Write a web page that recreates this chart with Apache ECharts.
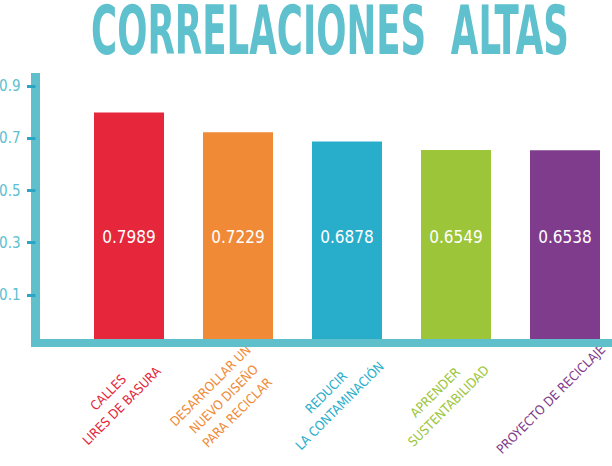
<!DOCTYPE html>
<html>
<head>
<meta charset="utf-8">
<script src="https://cdn.jsdelivr.net/npm/echarts@6/dist/echarts.min.js"></script>
<style>
  html, body { margin: 0; padding: 0; background: #fff; }
  #main { width: 612px; height: 466px; }
</style>
</head>
<body>
<div id="main"></div>
<script>
// datos del gráfico
const categories = [
  "CALLES\nLIRES DE BASURA",
  "DESARROLLAR UN\nNUEVO DISEÑO\nPARA RECICLAR",
  "REDUCIR\nLA CONTAMINACIÓN",
  "APRENDER\nSUSTENTABILIDAD",
  "PROYECTO DE RECICLAJE"
];
const values = [0.7989, 0.7229, 0.6878, 0.6549, 0.6538];
const barColors = ["#e5263b", "#f08a36", "#28adcb", "#9cc53a", "#7f3c8c"];
const yTicks = [0.1, 0.3, 0.5, 0.7, 0.9];

const FONT = "'Liberation Sans Narrow', 'DejaVu Sans Condensed', 'Roboto', sans-serif";
const AXIS_COLOR = "#5fc0cc";
const TICK_COLOR = "#2aa5c6";
const Y_MIN = -0.084;
const Y_MAX = 0.95;

const myChart = echarts.init(document.getElementById("main"), null, { renderer: "svg" });

const option = {
  backgroundColor: "#fff",
  animation: false,
  graphic: [
    {
      type: "text",
      x: 330,
      y: 31,
      scaleX: 0.86,
      scaleY: 1.46,
      style: {
        text: "CORRELACIONES  ALTAS",
        fill: "#5ec1cd",
        font: "bold 46px " + FONT,
        lineHeight: 38,
        textAlign: "center",
        verticalAlign: "middle"
      }
    }
  ],
  grid: [
    { left: 74.5, right: -7.5, top: 73, bottom: 123, outerBoundsMode: "none" },
    { left: 31, right: 0, top: 73, bottom: 123, outerBoundsMode: "none" }
  ],
  xAxis: [
    {
      type: "category",
      gridIndex: 0,
      data: categories,
      axisLine: { show: false },
      axisTick: { show: false },
      axisLabel: {
        rotate: 45,
        align: "center",
        verticalAlign: "middle",
        margin: 42,
        padding: [0, 40, 0, 0],
        interval: 0,
        fontFamily: FONT,
        fontSize: 13,
        lineHeight: 19,
        color: (val, idx) => barColors[idx]
      }
    },
    {
      type: "value",
      gridIndex: 1,
      z: 5,
      axisLine: { show: true, lineStyle: { color: AXIS_COLOR, width: 8, cap: "butt" } },
      axisTick: { show: false },
      axisLabel: { show: false },
      splitLine: { show: false }
    }
  ],
  yAxis: [
    {
      type: "value",
      gridIndex: 0,
      min: Y_MIN,
      max: Y_MAX,
      startValue: Y_MIN,
      offset: 39,
      z: 5,
      axisLine: { show: true, lineStyle: { color: AXIS_COLOR, width: 9, cap: "butt" } },
      axisTick: {
        show: true,
        customValues: yTicks,
        length: 8.5,
        lineStyle: { color: TICK_COLOR, width: 3 }
      },
      axisLabel: {
        customValues: yTicks,
        formatter: (v) => v.toFixed(1),
        margin: 15,
        fontFamily: FONT,
        fontSize: 15,
        color: "#5bbfd1"
      },
      splitLine: { show: false }
    },
    {
      type: "value",
      gridIndex: 0,
      min: Y_MIN,
      max: Y_MAX,
      offset: 39,
      z: 6,
      axisLine: { show: false },
      axisTick: {
        show: true,
        inside: true,
        customValues: yTicks,
        length: 7.5,
        lineStyle: { color: TICK_COLOR, width: 3 }
      },
      axisLabel: { show: false },
      splitLine: { show: false }
    },
    { type: "value", gridIndex: 1, show: false }
  ],
  series: [
    {
      type: "bar",
      xAxisIndex: 0,
      yAxisIndex: 0,
      barWidth: 70,
      data: values.map((v, i) => ({ value: v, itemStyle: { color: barColors[i] } })),
      label: {
        show: true,
        position: "insideBottom",
        distance: 98,
        color: "#fff",
        fontFamily: FONT,
        fontSize: 17
      }
    }
  ]
};

option && myChart.setOption(option);
</script>
</body>
</html>
